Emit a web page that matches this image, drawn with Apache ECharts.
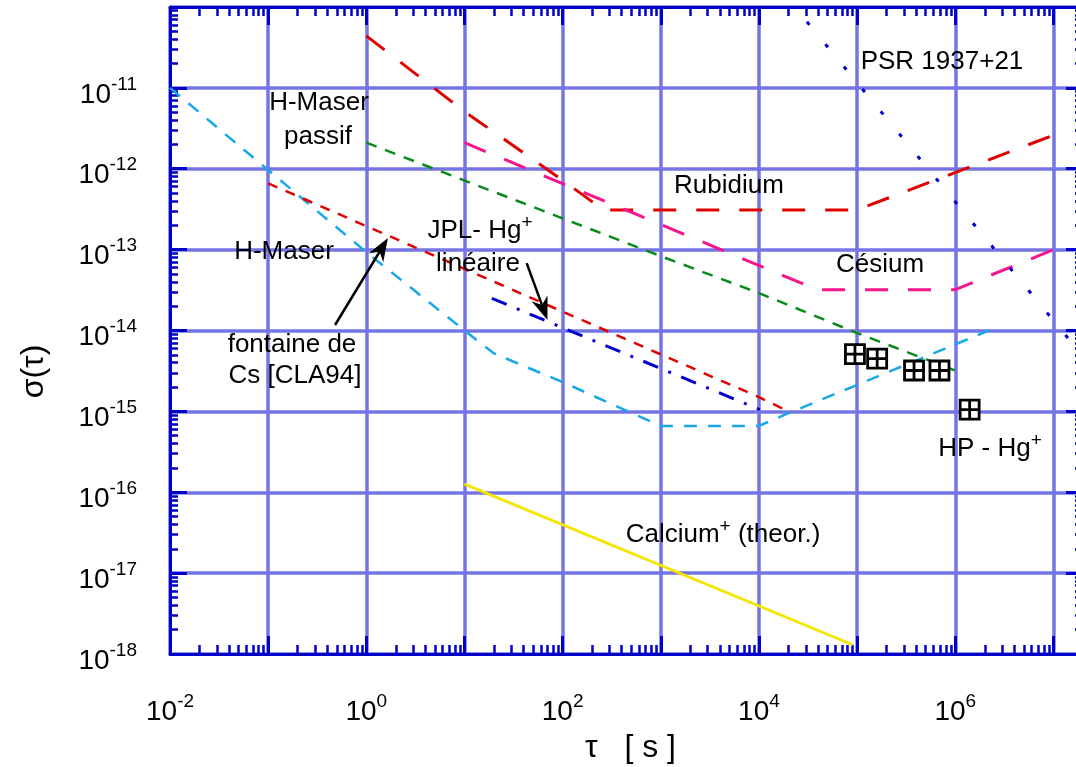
<!DOCTYPE html>
<html><head><meta charset="utf-8">
<script src="https://cdn.jsdelivr.net/npm/echarts@6/dist/echarts.min.js"></script>
<style>html,body{margin:0;padding:0;background:#fff}#c{width:1076px;height:767px}</style>
</head><body><div id="c"></div>
<script>
// ---------- tick arrays ----------
const xDecades = [1e-2, 1e-1, 1, 10, 100, 1e3, 1e4, 1e5, 1e6, 1e7];
const xLabelValues = [1e-2, 1, 1e2, 1e4, 1e6];
const yDecades = [1e-18, 1e-17, 1e-16, 1e-15, 1e-14, 1e-13, 1e-12, 1e-11, 1e-10];
const yLabelValues = [1e-18, 1e-17, 1e-16, 1e-15, 1e-14, 1e-13, 1e-12, 1e-11];
const minorMultipliers = [2, 3, 4, 5, 6, 7, 8, 9];

// ---------- data (tau in s, sigma) ----------
const hMaserTau   = [0.01, 1, 10, 20, 100, 1000, 1e4, 2e4, 2.2e6];
const hMaserSigma = [1e-11, 9.3e-14, 1.0e-14, 5.2e-15, 2.3e-15, 6.6e-16, 6.6e-16, 9.5e-16, 1.0e-14];
const fontaineTau   = [0.1, 1e4, 2e4];
const fontaineSigma = [6.6e-13, 1.5e-15, 1.0e-15];
const passifTau   = [1, 1e3, 1e4, 1e5, 1e6];
const passifSigma = [2.1e-12, 8.3e-14, 2.9e-14, 9.3e-15, 3.2e-15];
const rubidiumTau   = [1, 10, 100, 260, 1e5, 1e7];
const rubidiumSigma = [4.4e-11, 5.1e-12, 7.2e-13, 3.1e-13, 3.1e-13, 2.6e-12];
const cesiumTau   = [10, 3.9e4, 1e6, 1e7];
const cesiumSigma = [2.1e-12, 3.2e-14, 3.2e-14, 1.0e-13];
const jplTau   = [19, 1.02e4];
const jplSigma = [2.5e-14, 1.05e-15];
const psrTau   = [2e4, 1e5, 1e6, 1e7, 2e7];
const psrSigma = [1.24e-10, 1.16e-11, 3.9e-13, 1.33e-14, 4.8e-15];
const calciumTau   = [10, 9e4];
const calciumSigma = [1.26e-16, 1.3e-18];
const hpHgTau   = [9.5e4, 1.6e5, 3.8e5, 6.9e5, 1.4e6];
const hpHgSigma = [5.1e-15, 4.5e-15, 3.2e-15, 3.2e-15, 1.05e-15];

// annotation arrows (data coordinates: tail -> tip)
const arrowFontaineFrom = [0.48, 1.17e-14];
const arrowFontaineTo   = [1.66, 1.39e-13];
const arrowJplFrom = [43, 6.8e-14];
const arrowJplTo   = [70, 1.35e-14];

// ---------- styling ----------
const FONT = '"Liberation Sans", Arial, Helvetica, sans-serif';
const AX = '#0000c8';
const GRID = '#7474e4';

function minorOf(decades) {
  const out = [];
  decades.forEach(d => minorMultipliers.forEach(m => out.push(d * m)));
  return out;
}
const xMinor = minorOf(xDecades).filter(v => v < 2e7);
const yMinor = minorOf(yDecades).filter(v => v < 1e-10);

const labelRich = {
  b: {fontSize: 28, lineHeight: 40, fontFamily: FONT, color: '#000'},
  s: {fontSize: 19, lineHeight: 18, verticalAlign: 'top', fontFamily: FONT, color: '#000'}
};
function expFmt(v) {
  return '{b|10}{s|' + Math.round(Math.log10(v)) + '}';
}

function xAx(pos, ticks, len, main) {
  return {
    type: 'log', logBase: 10, min: 0.01, max: 2e7, position: pos, gridIndex: 0,
    axisLine: {show: main, onZero: false, lineStyle: {color: AX, width: 3}},
    axisTick: {show: true, inside: true, length: len, customValues: ticks,
               lineStyle: {color: AX, width: main ? 3 : 2.5}},
    axisLabel: (main && pos === 'bottom') ?
      {show: true, customValues: xLabelValues, margin: 38, formatter: expFmt, rich: labelRich} :
      {show: false},
    splitLine: {show: main && pos === 'bottom', lineStyle: {color: GRID, width: 3.5}},
    minorTick: {show: false}, minorSplitLine: {show: false},
    name: (main && pos === 'bottom') ? 'τ   [ s ]' : '',
    nameLocation: 'middle', nameGap: 78, nameMoveOverlap: false,
    nameTextStyle: {fontSize: 32, fontFamily: FONT, color: '#000', padding: [0, 0, 0, 8]},
    silent: true
  };
}
function yAx(pos, ticks, len, main) {
  return {
    type: 'log', logBase: 10, min: 1e-18, max: 1e-10, position: pos, gridIndex: 0,
    axisLine: {show: main, onZero: false, lineStyle: {color: AX, width: 3}},
    axisTick: {show: true, inside: true, length: len, customValues: ticks,
               lineStyle: {color: AX, width: main ? 3 : 2.5}},
    axisLabel: (main && pos === 'left') ?
      {show: true, customValues: yLabelValues, margin: 33, formatter: expFmt, rich: labelRich,
       padding: [14, 0, 0, 0]} :
      {show: false},
    splitLine: {show: main && pos === 'left', lineStyle: {color: GRID, width: 3.5}},
    minorTick: {show: false}, minorSplitLine: {show: false},
    name: (main && pos === 'left') ? 'σ(τ)' : '',
    nameLocation: 'middle', nameGap: 120, nameRotate: 90, nameMoveOverlap: false,
    nameTextStyle: {fontSize: 32, fontFamily: FONT, color: '#000', padding: [0, 82, 0, 0]},
    silent: true
  };
}

function zip(a, b) { return a.map((v, i) => [v, b[i]]); }
function lineSeries(name, xs, ys, color, type, width) {
  return {
    name, type: 'line', xAxisIndex: 0, yAxisIndex: 0, data: zip(xs, ys),
    showSymbol: false, symbol: 'none', smooth: false, silent: true, z: 3,
    lineStyle: {color, width, type, cap: 'butt'}
  };
}

const chart = echarts.init(document.getElementById('c'), null, {renderer: 'canvas'});

const labelDefs = [
  {x: 319, y: 103, text: 'H-Maser'},
  {x: 318, y: 137, text: 'passif'},
  {x: 729, y: 186, text: 'Rubidium'},
  {x: 880, y: 265, text: 'Césium'},
  {x: 942, y: 62, text: 'PSR 1937+21'},
  {x: 480, y: 231, text: '{a|JPL- Hg}{s|+}'},
  {x: 478, y: 264, text: 'linéaire'},
  {x: 284, y: 252, text: 'H-Maser'},
  {x: 292, y: 345, text: 'fontaine de'},
  {x: 295, y: 376, text: 'Cs [CLA94]'},
  {x: 990, y: 449, text: '{a|HP - Hg}{s|+}'},
  {x: 723, y: 535, text: '{a|Calcium}{s|+}{a| (theor.)}'}
];
const textRich = {
  a: {fontSize: 26, lineHeight: 36, fontFamily: FONT, fill: '#000'},
  s: {fontSize: 19, lineHeight: 16, verticalAlign: 'top', fontFamily: FONT, fill: '#000'}
};
const textGraphics = labelDefs.map(d => ({
  type: 'text', x: d.x, y: d.y, z: 100, silent: true,
  style: {text: d.text, rich: textRich, font: '26px ' + FONT, fill: '#000',
          align: 'center', verticalAlign: 'middle'}
}));

chart.setOption({
  animation: false,
  backgroundColor: '#fff',
  grid: {left: 170, top: 7, width: 913, height: 647, containLabel: false, outerBoundsMode: 'none'},
  xAxis: [xAx('bottom', xDecades, 18, true), xAx('bottom', xMinor, 9, false),
          xAx('top', xDecades, 18, true), xAx('top', xMinor, 9, false)],
  yAxis: [yAx('left', yDecades, 17, true), yAx('left', yMinor, 8, false),
          yAx('right', yDecades, 17, true), yAx('right', yMinor, 8, false)],
  series: [
    lineSeries('Calcium+ (theor.)', calciumTau, calciumSigma, '#f4e600', 'solid', 2.8),
    lineSeries('H-Maser', hMaserTau, hMaserSigma, '#18a8e8', [13, 11], 2.5),
    lineSeries('H-Maser passif', passifTau, passifSigma, '#0a8a1a', [11, 9], 2.5),
    lineSeries('fontaine de Cs [CLA94]', fontaineTau, fontaineSigma, '#e00000', [10, 9], 2.5),
    lineSeries('Rubidium', rubidiumTau, rubidiumSigma, '#e00000', [23, 20], 3),
    lineSeries('Césium', cesiumTau, cesiumSigma, '#f5168e', [23, 20], 3),
    lineSeries('JPL- Hg+ linéaire', jplTau, jplSigma, '#0000cc', [16, 11, 3, 11], 3),
    lineSeries('PSR 1937+21', psrTau, psrSigma, '#0000cc', [4, 25], 3),
    {
      name: 'HP - Hg+', type: 'scatter', xAxisIndex: 0, yAxisIndex: 0, z: 5, silent: true,
      data: zip(hpHgTau, hpHgSigma),
      symbol: 'path://M0 0H20V20H0Z M10 0V20 M0 10H20', symbolSize: 19,
      itemStyle: {color: '#fff', borderColor: '#000', borderWidth: 2.8, opacity: 1}
    }
  ],
  graphic: textGraphics
});

function arrow(p0, p1) {
  const dx = p1[0] - p0[0], dy = p1[1] - p0[1], L = Math.hypot(dx, dy);
  const ux = dx / L, uy = dy / L, nx = -uy, ny = ux;
  const head = 23, hw = 8.5, notch = 16;
  const base = [p1[0] - ux * head, p1[1] - uy * head];
  const nb = [p1[0] - ux * notch, p1[1] - uy * notch];
  return [
    {type: 'line', z: 100, silent: true, shape: {x1: p0[0], y1: p0[1], x2: nb[0], y2: nb[1]},
     style: {stroke: '#000', lineWidth: 2.5}},
    {type: 'polygon', z: 100, silent: true,
     shape: {points: [p1, [base[0] + nx * hw, base[1] + ny * hw], nb, [base[0] - nx * hw, base[1] - ny * hw]]},
     style: {fill: '#000'}}
  ];
}
const cv = v => chart.convertToPixel({xAxisIndex: 0, yAxisIndex: 0}, v);
const arrows = [].concat(
  arrow(cv(arrowFontaineFrom), cv(arrowFontaineTo)),
  arrow(cv(arrowJplFrom), cv(arrowJplTo))
);
chart.setOption({graphic: textGraphics.concat(arrows)});
</script></body></html>
